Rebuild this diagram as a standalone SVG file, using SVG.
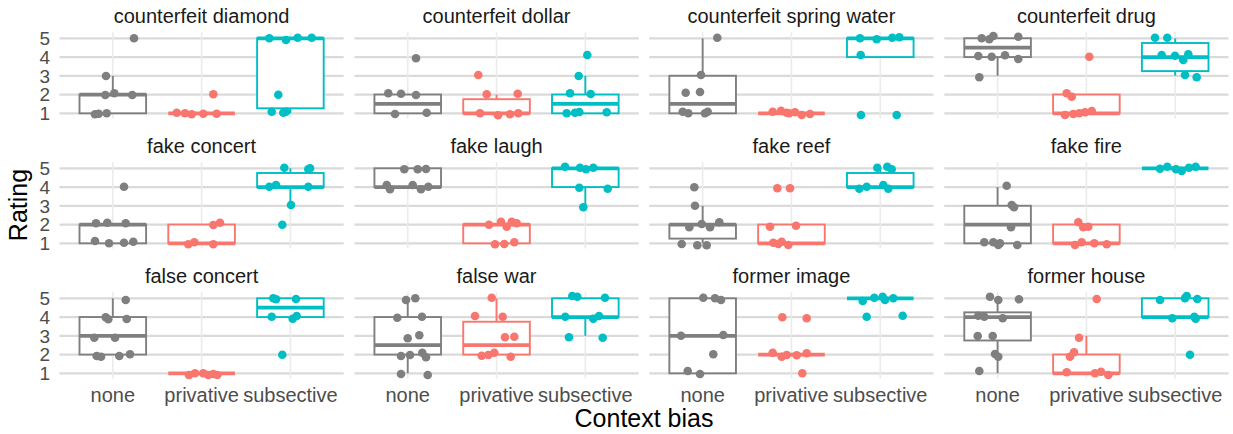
<svg xmlns="http://www.w3.org/2000/svg" xmlns:xlink="http://www.w3.org/1999/xlink" width="1233" height="434" viewBox="0 0 1233 434">
<style>
text{font-family:"Liberation Sans",Arial,sans-serif}
.st{font-size:20px;fill:#1A1A1A;text-anchor:middle}
.yt{font-size:19px;fill:#4D4D4D;text-anchor:end}
.xt{font-size:20px;fill:#4D4D4D;text-anchor:middle}
.ti{font-size:25px;fill:#000;text-anchor:middle}
.gh{stroke:#DADADA;stroke-width:2.2}
.gv{stroke:#EBEBEB;stroke-width:1.6}
.bx{fill:#fff;stroke-width:1.9}
.wk{stroke-width:1.9}
.md{stroke-width:3.8}
.g{stroke:#7F7F7F}.p{stroke:#F8766D}.s{stroke:#00BFC4}
.G circle{fill:#7F7F7F}.P circle{fill:#F8766D}.S circle{fill:#00BFC4}
circle{r:4.3px}
</style>
<defs>
<g id="grid">
<line class="gh" x1="59.5" x2="343.7" y1="38.3" y2="38.3"/>
<line class="gh" x1="59.5" x2="343.7" y1="57.05" y2="57.05"/>
<line class="gh" x1="59.5" x2="343.7" y1="75.8" y2="75.8"/>
<line class="gh" x1="59.5" x2="343.7" y1="94.55" y2="94.55"/>
<line class="gh" x1="59.5" x2="343.7" y1="113.3" y2="113.3"/>
<line class="gv" x1="112.8" x2="112.8" y1="32.3" y2="118.5"/>
<line class="gv" x1="201.6" x2="201.6" y1="32.3" y2="118.5"/>
<line class="gv" x1="290.4" x2="290.4" y1="32.3" y2="118.5"/>
</g>
</defs>
<rect width="1233" height="434" fill="#fff"/>
<g id="gridlines">
<use xlink:href="#grid"/><use xlink:href="#grid" x="294.93"/><use xlink:href="#grid" x="589.86"/><use xlink:href="#grid" x="884.79"/>
<use xlink:href="#grid" y="130"/><use xlink:href="#grid" x="294.93" y="130"/><use xlink:href="#grid" x="589.86" y="130"/><use xlink:href="#grid" x="884.79" y="130"/>
<use xlink:href="#grid" y="260"/><use xlink:href="#grid" x="294.93" y="260"/><use xlink:href="#grid" x="589.86" y="260"/><use xlink:href="#grid" x="884.79" y="260"/>
</g>
<g id="axes">
<text class="yt" x="50" y="45">5</text><text class="yt" x="50" y="63.75">4</text><text class="yt" x="50" y="82.5">3</text><text class="yt" x="50" y="101.25">2</text><text class="yt" x="50" y="120">1</text>
<text class="yt" x="50" y="175">5</text><text class="yt" x="50" y="193.75">4</text><text class="yt" x="50" y="212.5">3</text><text class="yt" x="50" y="231.25">2</text><text class="yt" x="50" y="250">1</text>
<text class="yt" x="50" y="305">5</text><text class="yt" x="50" y="323.75">4</text><text class="yt" x="50" y="342.5">3</text><text class="yt" x="50" y="361.25">2</text><text class="yt" x="50" y="380">1</text>
<text class="xt" x="112.8" y="402">none</text><text class="xt" x="201.6" y="402">privative</text><text class="xt" x="290.4" y="402">subsective</text>
<text class="xt" x="407.73" y="402">none</text><text class="xt" x="496.53" y="402">privative</text><text class="xt" x="585.33" y="402">subsective</text>
<text class="xt" x="702.66" y="402">none</text><text class="xt" x="791.46" y="402">privative</text><text class="xt" x="880.26" y="402">subsective</text>
<text class="xt" x="997.59" y="402">none</text><text class="xt" x="1086.39" y="402">privative</text><text class="xt" x="1175.19" y="402">subsective</text>
<text class="ti" x="644" y="427">Context bias</text>
<text class="ti" transform="translate(27,205) rotate(-90)">Rating</text>
</g>
<g id="panel-counterfeit-diamond">
<text class="st" x="201.6" y="22.7">counterfeit diamond</text>
<line class="wk g" x1="112.8" x2="112.8" y1="94.55" y2="75.8"/><rect class="bx g" x="79.5" y="94.55" width="66.6" height="18.75"/><line class="md g" x1="79.5" x2="146.1" y1="94.55" y2="94.55"/>
<line class="md p" x1="168.3" x2="234.9" y1="113.3" y2="113.3"/>
<line class="wk s" x1="290.4" x2="290.4" y1="108.3" y2="113.3"/><rect class="bx s" x="257.1" y="38.3" width="66.6" height="70"/><line class="md s" x1="257.1" x2="323.7" y1="38.3" y2="38.3"/>
<g class="G"><circle cx="134" cy="38.3"/><circle cx="106" cy="76"/><circle cx="105.3" cy="95"/><circle cx="114.3" cy="93.3"/><circle cx="132.3" cy="95"/><circle cx="95" cy="114.3"/><circle cx="98.7" cy="113.7"/><circle cx="106.7" cy="113.3"/></g>
<g class="P"><circle cx="213.3" cy="94.3"/><circle cx="176.7" cy="112.7"/><circle cx="185" cy="113.3"/><circle cx="191.7" cy="114.3"/><circle cx="203.3" cy="113.7"/><circle cx="216.7" cy="113.7"/></g>
<g class="S"><circle cx="269.3" cy="38.3"/><circle cx="286" cy="40"/><circle cx="297.7" cy="37.7"/><circle cx="311.7" cy="37.7"/><circle cx="278.3" cy="94.7"/><circle cx="271.7" cy="111.7"/><circle cx="283.3" cy="112.7"/><circle cx="286" cy="111.7"/></g>
</g>
<g id="panel-counterfeit-dollar">
<text class="st" x="496.53" y="22.7">counterfeit dollar</text>
<rect class="bx g" x="374.43" y="94.55" width="66.6" height="18.75"/><line class="md g" x1="374.43" x2="441.03" y1="103.93" y2="103.93"/>
<line class="wk p" x1="496.53" x2="496.53" y1="94.55" y2="99.2"/><rect class="bx p" x="463.23" y="99.2" width="66.6" height="14.1"/><line class="md p" x1="463.23" x2="529.83" y1="113.3" y2="113.3"/>
<line class="wk s" x1="585.33" x2="585.33" y1="94.55" y2="75.8"/><rect class="bx s" x="552.03" y="94.55" width="66.6" height="18.75"/><line class="md s" x1="552.03" x2="618.63" y1="103.93" y2="103.93"/>
<g class="G"><circle cx="416" cy="58.3"/><circle cx="388.3" cy="93.3"/><circle cx="401" cy="93.7"/><circle cx="416" cy="95"/><circle cx="395" cy="114"/><circle cx="426.7" cy="112.7"/></g>
<g class="P"><circle cx="478.3" cy="75"/><circle cx="486.7" cy="94.3"/><circle cx="517.7" cy="93.7"/><circle cx="480" cy="113.3"/><circle cx="498" cy="115.3"/><circle cx="510" cy="114.3"/><circle cx="518.3" cy="113.3"/></g>
<g class="S"><circle cx="587.3" cy="55"/><circle cx="578.7" cy="76"/><circle cx="570" cy="93.3"/><circle cx="590.7" cy="94"/><circle cx="566.7" cy="113.3"/><circle cx="575" cy="112.7"/><circle cx="579.3" cy="112"/><circle cx="606.7" cy="112.3"/></g>
</g>
<g id="panel-counterfeit-spring-water">
<text class="st" x="791.46" y="22.7">counterfeit spring water</text>
<line class="wk g" x1="702.66" x2="702.66" y1="75.8" y2="38.3"/><rect class="bx g" x="669.36" y="75.8" width="66.6" height="37.5"/><line class="md g" x1="669.36" x2="735.96" y1="103.93" y2="103.93"/>
<line class="md p" x1="758.16" x2="824.76" y1="113.3" y2="113.3"/>
<rect class="bx s" x="846.96" y="38.3" width="66.6" height="18.75"/><line class="md s" x1="846.96" x2="913.56" y1="38.3" y2="38.3"/>
<g class="G"><circle cx="717.3" cy="37.7"/><circle cx="701" cy="75"/><circle cx="685.7" cy="92.7"/><circle cx="700" cy="92"/><circle cx="682.7" cy="111.7"/><circle cx="688.3" cy="113.3"/><circle cx="705" cy="113.3"/><circle cx="707.7" cy="111.7"/></g>
<g class="P"><circle cx="772.7" cy="111.7"/><circle cx="781" cy="110.7"/><circle cx="786.7" cy="112.7"/><circle cx="789" cy="113.3"/><circle cx="795" cy="112.3"/><circle cx="801.7" cy="115"/><circle cx="810" cy="114"/></g>
<g class="S"><circle cx="860" cy="38.3"/><circle cx="876.7" cy="39.3"/><circle cx="892.3" cy="37.7"/><circle cx="899.3" cy="37.3"/><circle cx="860.7" cy="55"/><circle cx="861" cy="115"/><circle cx="896.7" cy="115"/></g>
</g>
<g id="panel-counterfeit-drug">
<text class="st" x="1086.39" y="22.7">counterfeit drug</text>
<line class="wk g" x1="997.59" x2="997.59" y1="57.05" y2="75.8"/><rect class="bx g" x="964.29" y="38.3" width="66.6" height="18.75"/><line class="md g" x1="964.29" x2="1030.89" y1="47.68" y2="47.68"/>
<rect class="bx p" x="1053.09" y="94.55" width="66.6" height="18.75"/><line class="md p" x1="1053.09" x2="1119.69" y1="113.3" y2="113.3"/>
<line class="wk s" x1="1175.19" x2="1175.19" y1="38.3" y2="75.8"/><rect class="bx s" x="1141.89" y="43" width="66.6" height="28.1"/><line class="md s" x1="1141.89" x2="1208.49" y1="57.05" y2="57.05"/>
<g class="G"><circle cx="981.7" cy="38.3"/><circle cx="989.3" cy="39.3"/><circle cx="993.3" cy="36"/><circle cx="1018.3" cy="36.7"/><circle cx="978.3" cy="56"/><circle cx="991.7" cy="56.7"/><circle cx="1005" cy="55.3"/><circle cx="1018.3" cy="59"/><circle cx="979.3" cy="77.3"/></g>
<g class="P"><circle cx="1089.3" cy="56.7"/><circle cx="1066.7" cy="93.3"/><circle cx="1071.7" cy="96.7"/><circle cx="1065" cy="115"/><circle cx="1073.3" cy="114"/><circle cx="1079.3" cy="113.3"/><circle cx="1085" cy="112.3"/><circle cx="1091.7" cy="111"/></g>
<g class="S"><circle cx="1155" cy="37.7"/><circle cx="1167.3" cy="37.7"/><circle cx="1161.7" cy="55"/><circle cx="1175" cy="55.7"/><circle cx="1183.3" cy="60"/><circle cx="1188.3" cy="54.3"/><circle cx="1185" cy="75"/><circle cx="1196.7" cy="77.3"/></g>
</g>
<g id="panel-fake-concert">
<text class="st" x="201.6" y="152.7">fake concert</text>
<rect class="bx g" x="79.5" y="224.55" width="66.6" height="18.75"/><line class="md g" x1="79.5" x2="146.1" y1="224.55" y2="224.55"/>
<rect class="bx p" x="168.3" y="224.55" width="66.6" height="18.75"/><line class="md p" x1="168.3" x2="234.9" y1="243.3" y2="243.3"/>
<line class="wk s" x1="290.4" x2="290.4" y1="168.3" y2="205.8"/><rect class="bx s" x="257.1" y="173" width="66.6" height="14.05"/><line class="md s" x1="257.1" x2="323.7" y1="187.05" y2="187.05"/>
<g class="G"><circle cx="124" cy="186.7"/><circle cx="96" cy="223.3"/><circle cx="107.3" cy="222.7"/><circle cx="125.7" cy="223.3"/><circle cx="95" cy="241"/><circle cx="109" cy="243.3"/><circle cx="124" cy="242.7"/><circle cx="133.3" cy="241.7"/></g>
<g class="P"><circle cx="213.3" cy="225"/><circle cx="220" cy="222.7"/><circle cx="188.3" cy="244.3"/><circle cx="194.3" cy="242.3"/><circle cx="213.3" cy="244.3"/></g>
<g class="S"><circle cx="284.3" cy="167.7"/><circle cx="310" cy="168.3"/><circle cx="308.3" cy="169.3"/><circle cx="269.3" cy="186.7"/><circle cx="276" cy="185"/><circle cx="308.3" cy="186.7"/><circle cx="291" cy="205"/><circle cx="282.3" cy="224.7"/></g>
</g>
<g id="panel-fake-laugh">
<text class="st" x="496.53" y="152.7">fake laugh</text>
<rect class="bx g" x="374.43" y="168.3" width="66.6" height="18.75"/><line class="md g" x1="374.43" x2="441.03" y1="187.05" y2="187.05"/>
<rect class="bx p" x="463.23" y="224.55" width="66.6" height="18.75"/><line class="md p" x1="463.23" x2="529.83" y1="224.55" y2="224.55"/>
<line class="wk s" x1="585.33" x2="585.33" y1="187.05" y2="205.8"/><rect class="bx s" x="552.03" y="168.3" width="66.6" height="18.75"/><line class="md s" x1="552.03" x2="618.63" y1="168.3" y2="168.3"/>
<g class="G"><circle cx="404.3" cy="169.3"/><circle cx="417.7" cy="169.3"/><circle cx="426" cy="169"/><circle cx="386.7" cy="185"/><circle cx="390" cy="189.3"/><circle cx="412.7" cy="185"/><circle cx="421" cy="189.3"/><circle cx="428.3" cy="186.7"/></g>
<g class="P"><circle cx="489" cy="224.7"/><circle cx="501" cy="221.7"/><circle cx="506.7" cy="226.7"/><circle cx="511.7" cy="221.7"/><circle cx="516.7" cy="223.3"/><circle cx="495" cy="244.3"/><circle cx="504.3" cy="244"/><circle cx="514.3" cy="242.3"/></g>
<g class="S"><circle cx="565" cy="166.7"/><circle cx="580" cy="167.7"/><circle cx="586" cy="169.3"/><circle cx="593.3" cy="167.7"/><circle cx="579.3" cy="187.7"/><circle cx="607.7" cy="188.7"/><circle cx="583.3" cy="207.3"/></g>
</g>
<g id="panel-fake-reef">
<text class="st" x="791.46" y="152.7">fake reef</text>
<line class="wk g" x1="702.66" x2="702.66" y1="205.8" y2="243.3"/><rect class="bx g" x="669.36" y="224.55" width="66.6" height="14.05"/><line class="md g" x1="669.36" x2="735.96" y1="224.55" y2="224.55"/>
<rect class="bx p" x="758.16" y="224.55" width="66.6" height="18.75"/><line class="md p" x1="758.16" x2="824.76" y1="243.3" y2="243.3"/>
<line class="wk s" x1="880.26" x2="880.26" y1="168.3" y2="187.05"/><rect class="bx s" x="846.96" y="173" width="66.6" height="14.05"/><line class="md s" x1="846.96" x2="913.56" y1="187.05" y2="187.05"/>
<g class="G"><circle cx="694.3" cy="187.3"/><circle cx="695" cy="205.7"/><circle cx="689.3" cy="227.3"/><circle cx="701.7" cy="224"/><circle cx="710" cy="227.3"/><circle cx="719.3" cy="222.3"/><circle cx="681.7" cy="244"/><circle cx="697.3" cy="245.3"/><circle cx="706.7" cy="245.3"/></g>
<g class="P"><circle cx="777.3" cy="188.3"/><circle cx="790" cy="188.3"/><circle cx="770" cy="226.7"/><circle cx="796" cy="225.7"/><circle cx="773.3" cy="242.7"/><circle cx="778.3" cy="244"/><circle cx="781.7" cy="241.7"/><circle cx="788.3" cy="245"/></g>
<g class="S"><circle cx="877.3" cy="167.7"/><circle cx="887.3" cy="166.7"/><circle cx="891.7" cy="169.3"/><circle cx="859.3" cy="188.7"/><circle cx="866.7" cy="186.7"/><circle cx="883.3" cy="185"/><circle cx="888.3" cy="188.7"/></g>
</g>
<g id="panel-fake-fire">
<text class="st" x="1086.39" y="152.7">fake fire</text>
<line class="wk g" x1="997.59" x2="997.59" y1="187.05" y2="205.8"/><rect class="bx g" x="964.29" y="205.8" width="66.6" height="37.5"/><line class="md g" x1="964.29" x2="1030.89" y1="224.55" y2="224.55"/>
<rect class="bx p" x="1053.09" y="224.55" width="66.6" height="18.75"/><line class="md p" x1="1053.09" x2="1119.69" y1="243.3" y2="243.3"/>
<line class="md s" x1="1141.89" x2="1208.49" y1="168.3" y2="168.3"/>
<g class="G"><circle cx="1006.7" cy="185.7"/><circle cx="1011.7" cy="205"/><circle cx="1014" cy="207.3"/><circle cx="1011" cy="227.3"/><circle cx="984.3" cy="242.3"/><circle cx="993.3" cy="242.3"/><circle cx="998.3" cy="245"/><circle cx="1000" cy="243.3"/><circle cx="1017.3" cy="245"/></g>
<g class="P"><circle cx="1078.3" cy="222.3"/><circle cx="1083.3" cy="227.3"/><circle cx="1088.3" cy="226.7"/><circle cx="1075" cy="245"/><circle cx="1081.7" cy="242.3"/><circle cx="1094.3" cy="243.3"/><circle cx="1106.7" cy="244.3"/></g>
<g class="S"><circle cx="1160" cy="168.7"/><circle cx="1167.3" cy="166.7"/><circle cx="1176" cy="169.3"/><circle cx="1181.7" cy="171"/><circle cx="1189" cy="167.7"/><circle cx="1195.7" cy="166.7"/></g>
</g>
<g id="panel-false-concert">
<text class="st" x="201.6" y="282.7">false concert</text>
<line class="wk g" x1="112.8" x2="112.8" y1="298.3" y2="317.05"/><rect class="bx g" x="79.5" y="317.05" width="66.6" height="37.5"/><line class="md g" x1="79.5" x2="146.1" y1="335.8" y2="335.8"/>
<line class="md p" x1="168.3" x2="234.9" y1="373.3" y2="373.3"/>
<rect class="bx s" x="257.1" y="298.3" width="66.6" height="18.75"/><line class="md s" x1="257.1" x2="323.7" y1="307.68" y2="307.68"/>
<g class="G"><circle cx="125.7" cy="300"/><circle cx="105.7" cy="317.3"/><circle cx="108.3" cy="319.3"/><circle cx="126.7" cy="319"/><circle cx="94.3" cy="337.7"/><circle cx="115" cy="337.7"/><circle cx="96.7" cy="356"/><circle cx="101" cy="356.7"/><circle cx="119.3" cy="356"/><circle cx="130" cy="354.3"/></g>
<g class="P"><circle cx="189" cy="375"/><circle cx="195" cy="373.3"/><circle cx="203.3" cy="373.3"/><circle cx="208.3" cy="375"/><circle cx="213.3" cy="374"/><circle cx="217.3" cy="375"/></g>
<g class="S"><circle cx="273.3" cy="298.3"/><circle cx="276" cy="299.3"/><circle cx="296" cy="299"/><circle cx="271.7" cy="316.7"/><circle cx="292.7" cy="318.7"/><circle cx="296.7" cy="316"/><circle cx="282.3" cy="354.7"/></g>
</g>
<g id="panel-false-war">
<text class="st" x="496.53" y="282.7">false war</text>
<line class="wk g" x1="407.73" x2="407.73" y1="298.3" y2="373.3"/><rect class="bx g" x="374.43" y="317.05" width="66.6" height="37.5"/><line class="md g" x1="374.43" x2="441.03" y1="345.18" y2="345.18"/>
<line class="wk p" x1="496.53" x2="496.53" y1="298.3" y2="321.74"/><rect class="bx p" x="463.23" y="321.74" width="66.6" height="32.81"/><line class="md p" x1="463.23" x2="529.83" y1="345.18" y2="345.18"/>
<line class="wk s" x1="585.33" x2="585.33" y1="317.05" y2="335.8"/><rect class="bx s" x="552.03" y="298.3" width="66.6" height="18.75"/><line class="md s" x1="552.03" x2="618.63" y1="317.05" y2="317.05"/>
<g class="G"><circle cx="406" cy="300"/><circle cx="415.3" cy="298.3"/><circle cx="397.3" cy="317.7"/><circle cx="422" cy="316.7"/><circle cx="407.7" cy="338.3"/><circle cx="419.3" cy="335.3"/><circle cx="401" cy="356"/><circle cx="410" cy="355"/><circle cx="422.3" cy="352.7"/><circle cx="426" cy="357.3"/><circle cx="401" cy="374"/><circle cx="427.7" cy="375"/></g>
<g class="P"><circle cx="491.7" cy="297.7"/><circle cx="475" cy="316"/><circle cx="502.7" cy="316.7"/><circle cx="505" cy="337.3"/><circle cx="514.3" cy="336.7"/><circle cx="481.7" cy="355.7"/><circle cx="488.3" cy="355"/><circle cx="494.3" cy="352.7"/><circle cx="510.7" cy="356.7"/></g>
<g class="S"><circle cx="572.3" cy="296"/><circle cx="577.3" cy="296.7"/><circle cx="605" cy="297.7"/><circle cx="565.3" cy="316.7"/><circle cx="593.3" cy="318.7"/><circle cx="599" cy="316"/><circle cx="569" cy="337.3"/><circle cx="602.7" cy="337.7"/></g>
</g>
<g id="panel-former-image">
<text class="st" x="791.46" y="282.7">former image</text>
<rect class="bx g" x="669.36" y="298.3" width="66.6" height="75"/><line class="md g" x1="669.36" x2="735.96" y1="335.8" y2="335.8"/>
<line class="md p" x1="758.16" x2="824.76" y1="354.55" y2="354.55"/>
<line class="md s" x1="846.96" x2="913.56" y1="298.3" y2="298.3"/>
<g class="G"><circle cx="703.3" cy="297.7"/><circle cx="715" cy="298.3"/><circle cx="721" cy="300"/><circle cx="681" cy="335.7"/><circle cx="723.3" cy="335"/><circle cx="713.3" cy="354.3"/><circle cx="687.7" cy="371"/><circle cx="700" cy="374"/></g>
<g class="P"><circle cx="782.3" cy="317.3"/><circle cx="806.7" cy="318.3"/><circle cx="772.7" cy="352.7"/><circle cx="781.7" cy="356.7"/><circle cx="786.7" cy="355"/><circle cx="796.7" cy="355.3"/><circle cx="806.7" cy="353.3"/><circle cx="802.3" cy="373.3"/></g>
<g class="S"><circle cx="862.7" cy="301"/><circle cx="874.3" cy="297.7"/><circle cx="882.7" cy="296.7"/><circle cx="885" cy="300"/><circle cx="893.3" cy="298.3"/><circle cx="866.7" cy="316.7"/><circle cx="902.7" cy="315.7"/></g>
</g>
<g id="panel-former-house">
<text class="st" x="1086.39" y="282.7">former house</text>
<line class="wk g" x1="997.59" x2="997.59" y1="298.3" y2="373.3"/><rect class="bx g" x="964.29" y="312.36" width="66.6" height="28.13"/><line class="md g" x1="964.29" x2="1030.89" y1="317.05" y2="317.05"/>
<line class="wk p" x1="1086.39" x2="1086.39" y1="335.8" y2="354.55"/><rect class="bx p" x="1053.09" y="354.55" width="66.6" height="18.75"/><line class="md p" x1="1053.09" x2="1119.69" y1="373.3" y2="373.3"/>
<rect class="bx s" x="1141.89" y="298.3" width="66.6" height="18.75"/><line class="md s" x1="1141.89" x2="1208.49" y1="317.05" y2="317.05"/>
<g class="G"><circle cx="990" cy="296.7"/><circle cx="998.3" cy="300"/><circle cx="1019" cy="299.3"/><circle cx="978.3" cy="315.7"/><circle cx="984.3" cy="316.7"/><circle cx="1002.7" cy="318.3"/><circle cx="977.7" cy="336"/><circle cx="992.7" cy="336"/><circle cx="995" cy="354"/><circle cx="998.3" cy="356.7"/><circle cx="979.3" cy="371"/></g>
<g class="P"><circle cx="1096.7" cy="299"/><circle cx="1079" cy="337.7"/><circle cx="1070" cy="356.7"/><circle cx="1074" cy="352.3"/><circle cx="1066.7" cy="372.3"/><circle cx="1095" cy="373.3"/><circle cx="1101" cy="371.7"/><circle cx="1108.3" cy="375"/></g>
<g class="S"><circle cx="1160" cy="300"/><circle cx="1185" cy="298.3"/><circle cx="1186.7" cy="296"/><circle cx="1197.3" cy="299"/><circle cx="1172.3" cy="318.3"/><circle cx="1194.3" cy="316.7"/><circle cx="1195.7" cy="318.7"/><circle cx="1190" cy="354.7"/></g>
</g>
</svg>
